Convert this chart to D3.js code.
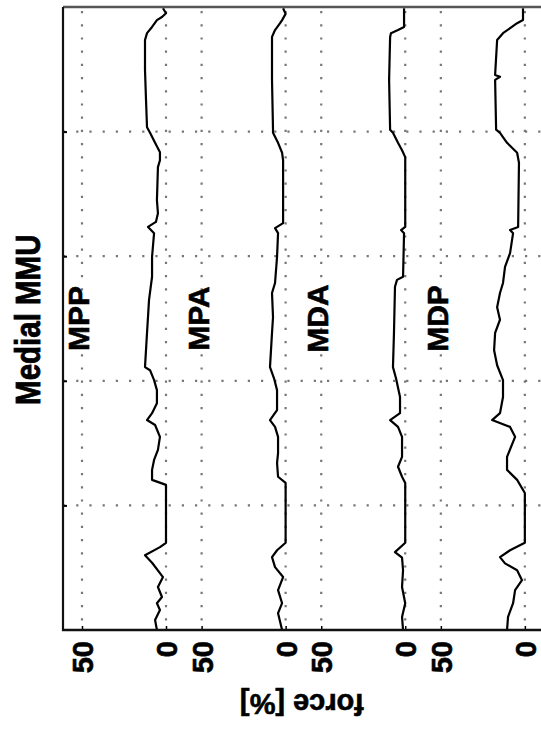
<!DOCTYPE html>
<html>
<head>
<meta charset="utf-8">
<script src="https://cdn.jsdelivr.net/npm/d3@7"></script>
<style>
  html, body { margin: 0; padding: 0; background: #fff; }
  svg { display: block; }
  text { font-family: "Liberation Sans", Arial, Helvetica, sans-serif; font-weight: bold; fill: #000; }
</style>
</head>
<body>
<svg id="chart" width="541" height="742"></svg>
<script>
// ---- data (time % of cycle, force %) ----
const title = "Medial MMU";
const xLabel = "force [%]";
const seriesNames = ["MPP", "MPA", "MDA", "MDP"];
const forceTicks = [50, 0];
const timeGrid = [20, 40, 60, 80];

const mpp = [[0.2,1.8],[1.0,0],[1.6,2.4],[2.1,5.4],[3.2,8.3],[4.2,11.3],[5.3,12.5],[10.1,12.5],[14.9,11.9],[19.3,11.3],[20.2,9.5],[21.8,6.5],[23.3,3.6],[24.6,3.6],[25.7,4.8],[31.0,5.4],[33.1,4.8],[34.5,6.0],[35.3,10.7],[36.3,7.1],[40.1,8.3],[43.3,8.3],[47.0,10.1],[52.3,11.3],[57.8,12.5],[58.3,9.5],[59.9,7.1],[61.5,5.4],[63.6,5.4],[65.2,8.3],[66.3,11.3],[67.1,6.5],[69.0,3.6],[71.1,4.8],[72.7,7.1],[74.3,8.3],[75.9,8.3],[76.7,0],[86.0,0],[86.7,3.6],[88.0,12.5],[89.2,8.3],[91.5,1.8],[93.1,4.8],[94.7,2.4],[95.7,5.4],[96.8,3.6],[98.4,6.5],[100,5.4]];

const mpa = [[0.2,1.5],[1.1,0],[2.1,2.1],[2.6,3.3],[3.7,6.3],[4.8,8.1],[11.7,8.1],[19.7,7.5],[20.2,7.5],[21.8,4.5],[23.4,2.1],[24.6,1.5],[34.7,1.5],[35.5,6.3],[36.3,4.5],[40.1,5.1],[44.3,6.3],[45.9,8.1],[49.8,7.5],[52.3,8.1],[57.8,9.3],[59.6,6.9],[61.5,5.1],[64.7,5.1],[66.3,9.3],[67.4,6.3],[69.0,4.5],[71.6,4.5],[73.2,5.1],[75.4,4.5],[76.4,0],[86.0,0],[87.2,5.1],[88.3,8.1],[89.9,6.3],[91.5,1.5],[93.6,4.5],[95.7,2.1],[97.3,4.5],[100,2.1]];

const mda = [[0.2,0.7],[3.2,0.7],[3.7,4.3],[4.2,8.5],[4.8,9.0],[11.7,9.6],[19.7,9.0],[20.2,7.3],[21.8,4.3],[23.0,1.9],[24.1,0],[35.3,0],[35.8,2.5],[36.3,0.7],[43.3,1.3],[43.8,4.9],[44.9,6.1],[52.3,6.7],[57.8,7.3],[59.6,5.5],[62.6,3.1],[65.2,3.1],[66.3,9.0],[67.4,4.3],[69.0,1.9],[72.2,1.9],[73.8,4.3],[75.4,1.9],[76.4,0],[86.0,0],[87.5,6.1],[88.4,1.9],[90.4,1.3],[93.1,1.9],[95.7,0],[97.9,1.9],[100,1.3]];

const mdp = [[0.2,1.1],[2.1,1.1],[2.6,4.6],[4.2,13.0],[5.3,16.5],[10.9,17.7],[11.2,14.8],[11.7,17.7],[19.7,17.1],[20.2,14.8],[21.8,10.6],[23.4,4.6],[25.0,3.5],[35.3,4.0],[35.8,8.8],[36.3,7.0],[39.5,8.8],[41.7,11.8],[44.3,13.0],[45.9,14.8],[48.2,16.5],[50.2,14.8],[52.3,17.7],[55.1,18.3],[57.5,16.5],[59.9,13.0],[62.6,13.0],[65.2,14.8],[66.3,19.5],[67.4,8.8],[69.0,5.8],[72.2,10.6],[74.3,10.6],[75.9,4.6],[78.0,0],[86.0,0],[87.2,8.8],[88.3,14.8],[89.3,11.8],[90.4,4.6],[92.0,1.7],[93.6,5.8],[95.7,7.0],[97.9,10.0],[100,10.6]];

const seriesData = [mpp, mpa, mda, mdp];

// ---- layout ----
const W = 541, H = 742;
const plot = { left: 63, top: 7, bottom: 630, right: 545 };
const panelShift = 71.2;      // force units between the panels' zero lines
const labelForce = 52, labelTime = 50;

const svg = d3.select("#chart");

const yScale = d3.scaleLinear().domain([0, 100]).range([plot.top, plot.bottom]);
const xScale = d3.scaleLinear().domain([0, 50]).range([166, 82]);
const panelScale = i => d3.scaleLinear().domain([0, 50])
  .range([xScale(-i * panelShift), xScale(50 - i * panelShift)]);

// grid
const grid = svg.append("g").attr("stroke", "#777").attr("stroke-width", 2.2)
  .attr("stroke-dasharray", "2.2,11");
timeGrid.forEach(t => {
  grid.append("line").attr("x1", plot.left).attr("x2", plot.right)
    .attr("y1", yScale(t)).attr("y2", yScale(t));
});
seriesNames.forEach((n, i) => {
  const s = panelScale(i);
  forceTicks.forEach(v => {
    grid.append("line").attr("x1", s(v)).attr("x2", s(v))
      .attr("y1", plot.top + 4).attr("y2", plot.bottom);
  });
});

// traces
seriesData.forEach((data, i) => {
  const s = panelScale(i);
  const line = d3.line().x(d => s(d[1])).y(d => yScale(d[0]));
  svg.append("path").datum(data).attr("d", line)
    .attr("fill", "none").attr("stroke", "#000").attr("stroke-width", 2.2)
    .attr("stroke-linejoin", "round");
});

// frame
svg.append("line").attr("x1", plot.left).attr("x2", plot.right)
  .attr("y1", plot.top).attr("y2", plot.top)
  .attr("stroke", "#555").attr("stroke-width", 2.4);

const leftAxis = d3.axisLeft(yScale).tickValues(timeGrid).tickSize(-4).tickFormat("");
svg.append("g").attr("transform", `translate(${plot.left},0)`).call(leftAxis)
  .call(g => g.select(".domain").remove())
  .selectAll("line").attr("stroke", "#000").attr("stroke-width", 2);
svg.append("line").attr("x1", plot.left).attr("x2", plot.left)
  .attr("y1", plot.top).attr("y2", plot.bottom + 1)
  .attr("stroke", "#111").attr("stroke-width", 2.2);

// bottom axes (one per panel)
seriesNames.forEach((n, i) => {
  const ax = d3.axisBottom(panelScale(i)).tickValues(forceTicks).tickSize(-4)
    .tickFormat(d3.format("d"));
  const g = svg.append("g").attr("transform", `translate(0,${plot.bottom})`).call(ax);
  g.select(".domain").remove();
  g.selectAll("line").attr("stroke", "#000").attr("stroke-width", 1.5);
  g.selectAll("text")
    .attr("transform", "rotate(-90)")
    .attr("x", -11).attr("y", 0).attr("dy", "0.36em")
    .style("text-anchor", "end")
    .style("font-size", "29px")
    .style("font-family", "'Liberation Sans', Arial, sans-serif")
    .style("font-weight", "bold")
    .attr("fill", "#000").attr("stroke", "#000").attr("stroke-width", 0.6);
});
svg.append("line").attr("x1", plot.left - 1).attr("x2", plot.right)
  .attr("y1", plot.bottom).attr("y2", plot.bottom)
  .attr("stroke", "#111").attr("stroke-width", 2.6);

// series labels
seriesNames.forEach((n, i) => {
  const s = panelScale(i);
  svg.append("text")
    .attr("transform", `translate(${s(labelForce)},${yScale(labelTime)}) rotate(-90)`)
    .attr("text-anchor", "middle").attr("dominant-baseline", "central")
    .style("font-size", "30px")
    .attr("stroke", "#000").attr("stroke-width", 0.6)
    .text(n);
});

// title
svg.append("text")
  .attr("transform", `translate(28,${yScale(50.2)}) rotate(-90) scale(1,1.18)`)
  .attr("text-anchor", "middle").attr("dominant-baseline", "central")
  .style("font-size", "29.5px")
  .attr("stroke", "#000").attr("stroke-width", 0.7)
  .text(title);

// x label (upside down in the reference)
svg.append("text")
  .attr("transform", `translate(302,704) rotate(180)`)
  .attr("text-anchor", "middle").attr("dominant-baseline", "central")
  .style("font-size", "29px")
  .attr("stroke", "#000").attr("stroke-width", 0.6)
  .text(xLabel);
</script>
</body>
</html>
